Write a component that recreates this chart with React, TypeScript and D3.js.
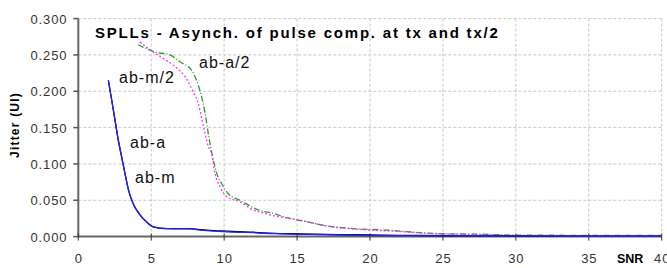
import { useEffect, useRef } from 'react'
import * as d3 from 'd3'

// solid curves (tx)
const snrSolid = [2.06, 2.29, 2.52, 2.74, 2.97, 3.2, 3.43, 3.77, 4.23, 4.69, 5.14, 6.06, 7, 7.67, 8.34, 9, 10.17, 11, 12, 12.7, 13.5, 14.5, 16, 18, 20, 22, 25, 28, 30, 35, 40]
const abA = [0.215, 0.188, 0.16, 0.133, 0.11, 0.087, 0.065, 0.045, 0.03, 0.02, 0.0135, 0.011, 0.011, 0.011, 0.0095, 0.0085, 0.0075, 0.0068, 0.006, 0.0052, 0.0045, 0.004, 0.0035, 0.0028, 0.0022, 0.0018, 0.0012, 0.001, 0.0008, 0.0006, 0.0005]
const abM = [0.215, 0.188, 0.16, 0.133, 0.11, 0.087, 0.065, 0.045, 0.03, 0.02, 0.0135, 0.011, 0.0105, 0.0105, 0.009, 0.008, 0.0066, 0.006, 0.0055, 0.0044, 0.004, 0.0034, 0.003, 0.0022, 0.0015, 0.0012, 0.001, 0.0008, 0.0006, 0.0005, 0.0005]

// dashed curves (tx/2)
const snrA2 = [4.1, 5.26, 6.29, 6.97, 7.77, 8.23, 8.46, 8.69, 8.91, 9.03, 9.26, 9.49, 9.83, 10.28, 11.08, 12.45, 13.37, 14.29, 14.97, 15.77, 17, 18.85, 21.1, 24.3, 28.2, 30, 35, 40]
const abA2 = [0.264, 0.254, 0.25, 0.2405, 0.229, 0.208, 0.192, 0.17, 0.142, 0.128, 0.105, 0.087, 0.073, 0.059, 0.05, 0.036, 0.032, 0.026, 0.023, 0.02, 0.015, 0.011, 0.009, 0.0044, 0.003, 0.002, 0.0018, 0.0018]
const snrM2 = [4.23, 4.92, 5.83, 6.63, 7.32, 7.88, 8.23, 8.46, 8.69, 8.91, 9.14, 9.37, 9.72, 10.17, 11.08, 11.77, 13.14, 14.5, 15.43, 16.6, 18, 20, 22, 24.3, 27, 30, 35, 40]
const abM2 = [0.268, 0.257, 0.245, 0.234, 0.22, 0.199, 0.183, 0.163, 0.142, 0.124, 0.114, 0.087, 0.0685, 0.055, 0.048, 0.039, 0.03, 0.025, 0.022, 0.016, 0.012, 0.009, 0.007, 0.004, 0.003, 0.0015, 0.0012, 0.0012]

const xTicks = [0, 5, 10, 15, 20, 25, 30, 35, 40]
const yTicks = [0, 0.05, 0.1, 0.15, 0.2, 0.25, 0.3]

const labels = [
  { text: 'ab-m/2', x: 119, y: 83 },
  { text: 'ab-a/2', x: 199, y: 68 },
  { text: 'ab-a', x: 130, y: 148 },
  { text: 'ab-m', x: 135, y: 183 },
]

export default function App() {
  const svgRef = useRef<SVGSVGElement>(null)
  const width = 667
  const height = 268

  useEffect(() => {
    if (!svgRef.current) return
    const svg = d3.select(svgRef.current)
    svg.selectAll('*').remove()

    const x = d3.scaleLinear().domain([0, 40]).range([78.3, 661.7])
    const y = d3.scaleLinear().domain([0, 0.3]).range([236.6, 18.6])
    const font = 'Arial, "Liberation Sans", sans-serif'

    // grid
    const grid = svg.append('g')
    grid.selectAll('line.v')
      .data(xTicks.filter(d => d > 0))
      .join('line')
      .attr('x1', d => x(d)).attr('x2', d => x(d))
      .attr('y1', y(0)).attr('y2', y(0.3))
      .attr('stroke', '#c8c8c8').attr('stroke-dasharray', '3,2')
    grid.selectAll('line.h')
      .data(yTicks.filter(d => d > 0))
      .join('line')
      .attr('x1', x(0)).attr('x2', x(40))
      .attr('y1', d => y(d)).attr('y2', d => y(d))
      .attr('stroke', '#c8c8c8').attr('stroke-dasharray', '3,2')

    // axes
    const axes = svg.append('g').attr('stroke', '#666').attr('stroke-width', 2)
    axes.append('line').attr('x1', x(0)).attr('x2', x(40)).attr('y1', y(0)).attr('y2', y(0))
    axes.append('line').attr('x1', x(0)).attr('x2', x(0)).attr('y1', y(0) + 1).attr('y2', y(0.3))
    svg.append('g').selectAll('line')
      .data(xTicks)
      .join('line')
      .attr('x1', d => x(d)).attr('x2', d => x(d))
      .attr('y1', y(0) - 3).attr('y2', y(0) + 4)
      .attr('stroke', '#333').attr('stroke-width', 1)
    svg.append('g').selectAll('line')
      .data(yTicks)
      .join('line')
      .attr('x1', x(0) - 5).attr('x2', x(0))
      .attr('y1', d => y(d)).attr('y2', d => y(d))
      .attr('stroke', '#555').attr('stroke-width', 1.5)

    // tick labels
    svg.append('g').selectAll('text')
      .data(yTicks)
      .join('text')
      .attr('x', 67.5).attr('y', d => y(d) + 5)
      .attr('text-anchor', 'end')
      .attr('font-family', font).attr('font-size', 13).attr('letter-spacing', 0.9).attr('fill', '#333')
      .text(d => d3.format('.3f')(d))
    svg.append('g').selectAll('text')
      .data(xTicks)
      .join('text')
      .attr('x', d => x(d) + 0.5).attr('y', 262.5)
      .attr('text-anchor', 'middle')
      .attr('font-family', font).attr('font-size', 13).attr('letter-spacing', 0.9).attr('fill', '#333')
      .text(d => String(d))

    svg.append('text')
      .attr('x', 617).attr('y', 262.5)
      .attr('font-family', font).attr('font-size', 12.5).attr('font-weight', 'bold')
      .text('SNR')

    svg.append('text')
      .attr('transform', 'translate(18.5,125) rotate(-90)')
      .attr('text-anchor', 'middle')
      .attr('font-family', font).attr('font-size', 12).attr('font-weight', 'bold').attr('letter-spacing', 1.2)
      .text('Jitter (UI)')

    svg.append('text')
      .attr('x', 95).attr('y', 38)
      .attr('font-family', font).attr('font-size', 15).attr('font-weight', 'bold').attr('letter-spacing', 1.8)
      .text('SPLLs - Asynch. of pulse comp. at tx and tx/2')

    const line = d3.line<[number, number]>()
      .x(d => x(d[0]))
      .y(d => y(d[1]))
      .curve(d3.curveMonotoneX)

    const series = [
      { xs: snrA2, ys: abA2, color: '#2a9a2a', dash: '6,2,1,2' },
      { xs: snrM2, ys: abM2, color: '#ff33ff', dash: '2,2' },
      { xs: snrSolid, ys: abA, color: '#000', dash: null },
      { xs: snrSolid, ys: abM, color: '#2222ff', dash: null },
    ]
    series.forEach(s => {
      const pts = s.xs.map((v, i) => [v, s.ys[i]] as [number, number])
      svg.append('path')
        .attr('d', line(pts))
        .attr('fill', 'none')
        .attr('stroke', s.color)
        .attr('stroke-width', 1.3)
        .attr('stroke-dasharray', s.dash)
    })

    svg.append('g').selectAll('text')
      .data(labels)
      .join('text')
      .attr('x', d => d.x).attr('y', d => d.y)
      .attr('font-family', font).attr('font-size', 16).attr('letter-spacing', 1).attr('fill', '#111')
      .text(d => d.text)
  }, [])

  return (
    <svg
      ref={svgRef}
      width={width}
      height={height}
      style={{ position: 'absolute', left: 0, top: 0, background: '#fff' }}
    />
  )
}
